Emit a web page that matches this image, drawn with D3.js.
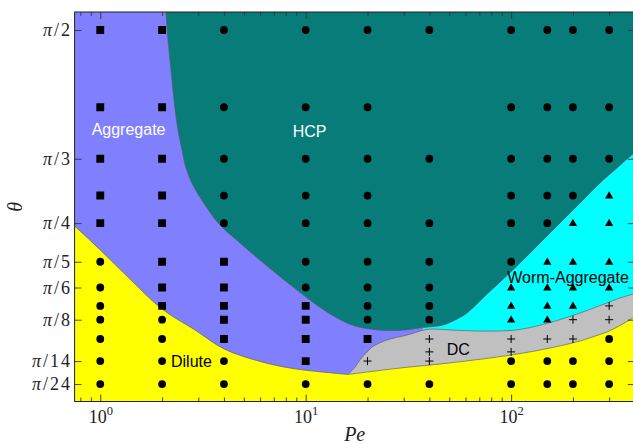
<!DOCTYPE html>
<html>
<head>
<meta charset="utf-8">
<script src="https://cdn.jsdelivr.net/npm/d3@7"></script>
<style>
  body { margin: 0; background: #fff; }
  svg { display: block; }
</style>
</head>
<body>
<svg id="chart" width="633" height="444"></svg>
<script>
// Péclet numbers of the simulated columns
const peValues = [1, 2, 4, 10, 20, 40, 100, 150, 200, 300];
// opening angles θ of the simulated rows, in units of π (top to bottom)
const thetaRows = [1/2, 2/5, 1/3, 2/7, 1/4, 1/5, 1/6, 1/7, 1/8, 1/10, 1/12, 1/14, 1/24];
// observed state for each Pe column, one character per θ row:
// A aggregate, o HCP / dilute, W worm-aggregate, C DC, . not run
const phaseColumns = [
  "AAAAAooooo.oo",
  "AAAAAAAAoo.oo",
  "oooooAAAAA.oo",
  "oooooooAAA.Ao",
  "oooooooooA.Co",
  "o.o.oooooCCCo",
  "ooooooWWWCCoo",
  "oooooWWWWC.oo",
  "ooooWWWWCC.oo",
  "oooWWWWCCo.oo"
];

// axis ticks
const xMajorTicks = [1, 10, 100];
const xTickExponents = ["0", "1", "2"];
const yTickDenominators = [2, 3, 4, 5, 6, 8, 14, 24];
const yTickLabels = ["2", "3", "4", "5", "6", "8", "14", "24"];

// phase boundaries, [Pe, θ (rad)]
// HCP region edge (HCP lies above it)
const hcpBoundary = [
  [2.054, 1.693], [2.088, 1.640], [2.136, 1.530], [2.209, 1.408], [2.285, 1.286],
  [2.389, 1.164], [2.499, 1.083], [2.614, 1.010], [2.827, 0.940], [3.234, 0.859],
  [3.826, 0.778], [4.787, 0.705], [5.99, 0.635], [7.753, 0.558], [10.03, 0.485],
  [13.13, 0.416], [17.38, 0.367], [24.33, 0.349], [30.44, 0.351],
  [37.25, 0.361], [46.60, 0.371], [53.33, 0.391], [61.01, 0.420], [76.32, 0.497],
  [88.31, 0.546], [110.5, 0.623], [138.3, 0.705], [173.0, 0.786], [216.5, 0.867],
  [270.9, 0.949], [327.8, 1.010], [392.3, 1.067], [474.7, 1.115]
];
// Pe where the worm-aggregate region begins under the HCP edge
const wormStartPe = 37.25;
// upper edge of the DC band
const dcBoundary = [
  [16.07, 0.170], [17.38, 0.200], [18.38, 0.229], [19.88, 0.261], [21.27, 0.284],
  [24.88, 0.310], [31.13, 0.330], [38.95, 0.353], [50.41, 0.351], [65.24, 0.347],
  [88.31, 0.347], [110.5, 0.353], [154.6, 0.381], [216.5, 0.420], [270.9, 0.450],
  [339.0, 0.481], [392.3, 0.497], [474.7, 0.522]
];
// upper edge of the dilute region (aggregate side, then DC side)
const diluteBoundaryLeft = [
  [0.673, 0.806], [0.753, 0.772], [1.0, 0.676], [1.395, 0.558], [1.997, 0.436],
  [2.891, 0.351], [4.002, 0.274], [5.99, 0.223], [8.675, 0.194], [12.70, 0.178],
  [16.07, 0.170]
];
const diluteBoundaryRight = [
  [16.07, 0.170], [28.78, 0.196], [50.41, 0.217], [100, 0.249], [160.0, 0.280],
  [216.5, 0.306], [256.2, 0.326], [293.1, 0.343], [339.0, 0.369], [392.3, 0.400],
  [474.7, 0.436]
];

// region names, anchored at [Pe, θ] (text start, baseline)
const regionLabels = [
  { text: "Aggregate", pe: 0.908, theta: 1.144, fill: "#ffffff" },
  { text: "HCP", pe: 8.645, theta: 1.137, fill: "#ffffff" },
  { text: "Worm-Aggregate", pe: 95.8, theta: 0.541, fill: "#000000" },
  { text: "DC", pe: 48.6, theta: 0.249, fill: "#000000" },
  { text: "Dilute", pe: 2.209, theta: 0.2015, fill: "#000000" }
];

const colors = {
  aggregate: "#8080ff",
  hcp: "#077c78",
  worm: "#00ffff",
  dc: "#c0c0c0",
  dilute: "#ffff00",
  edge: "#5a5a5a"
};

const svg = d3.select("#chart");
const box = { left: 74.6, right: 634.8, top: 12, bottom: 401.5 };

const x = d3.scaleLog().domain([0.75, 400]).range([box.left, box.right]);
const y = d3.scaleLinear().domain([0.06, 1.644]).range([box.bottom, box.top]);

svg.append("defs").append("clipPath").attr("id", "plot-clip")
  .append("rect").attr("x", box.left).attr("y", box.top)
  .attr("width", box.right - box.left).attr("height", box.bottom - box.top);

const plot = svg.append("g").attr("clip-path", "url(#plot-clip)");

// aggregate fills the whole plane, other phases are layered on top
plot.append("rect").attr("x", box.left).attr("y", box.top)
  .attr("width", box.right - box.left).attr("height", box.bottom - box.top)
  .attr("fill", colors.aggregate);

const smooth = d3.curveCatmullRom.alpha(0.5);
const areaBelow = d3.area()
  .x(d => x(d[0])).y0(box.bottom + 5).y1(d => y(d[1]))
  .curve(smooth);
const areaAbove = d3.area()
  .x(d => x(d[0])).y0(box.top - 5).y1(d => y(d[1]))
  .curve(smooth);
const edgeLine = d3.line()
  .x(d => x(d[0])).y(d => y(d[1]))
  .curve(smooth);

// worm-aggregate: under the right branch of the HCP edge
plot.append("path")
  .attr("d", areaBelow(hcpBoundary.filter(d => d[0] >= wormStartPe)))
  .attr("fill", colors.worm);
// HCP
plot.append("path").attr("d", areaAbove(hcpBoundary)).attr("fill", colors.hcp);
// DC band
plot.append("path").attr("d", areaBelow(dcBoundary)).attr("fill", colors.dc);
// dilute
plot.append("path").attr("d", areaBelow(diluteBoundaryLeft)).attr("fill", colors.dilute);
plot.append("path").attr("d", areaBelow(diluteBoundaryRight)).attr("fill", colors.dilute);

// thin edges along the boundaries
[hcpBoundary, dcBoundary, diluteBoundaryLeft, diluteBoundaryRight].forEach(b => {
  plot.append("path").attr("d", edgeLine(b))
    .attr("fill", "none").attr("stroke", colors.edge)
    .attr("stroke-width", 0.8).attr("stroke-opacity", 0.8);
});

// simulation markers
const points = [];
peValues.forEach((pe, i) => {
  thetaRows.forEach((t, j) => {
    const s = phaseColumns[i][j];
    if (s !== ".") points.push({ pe, theta: t * Math.PI, state: s });
  });
});

const squarePath = d3.symbol(d3.symbolSquare, 62)();
const trianglePath = d3.symbol(d3.symbolTriangle, 30)();
const plusPath = "M-4,0H4M0,-4V4";

const marks = plot.append("g");
points.forEach(p => {
  const g = marks.append("g")
    .attr("transform", `translate(${x(p.pe)},${y(p.theta)})`);
  if (p.state === "o") {
    g.append("circle").attr("r", 3.9).attr("fill", "#000");
  } else if (p.state === "A") {
    g.append("path").attr("d", squarePath).attr("fill", "#000");
  } else if (p.state === "W") {
    g.append("path").attr("d", trianglePath).attr("fill", "#000")
      .attr("transform", "translate(0,0.5)");
  } else if (p.state === "C") {
    g.append("path").attr("d", plusPath).attr("fill", "none")
      .attr("stroke", "#000").attr("stroke-width", 1);
  }
});

// region names
svg.append("g").selectAll("text").data(regionLabels).join("text")
  .attr("x", d => x(d.pe)).attr("y", d => y(d.theta))
  .attr("fill", d => d.fill)
  .attr("font-family", "'Liberation Sans', Arial, sans-serif")
  .attr("font-size", 16)
  .text(d => d.text);

// axes with inward ticks on all four sides
const minorTicks = x.ticks().filter(v => !xMajorTicks.includes(v));
const tickColor = "#333";
function styleAxis(g) {
  g.select(".domain").remove();
  g.selectAll(".tick line").attr("stroke", tickColor).attr("stroke-width", 0.9);
  g.selectAll(".tick text").remove();
}
svg.append("g").attr("transform", `translate(0,${box.bottom})`)
  .call(d3.axisBottom(x).tickValues(xMajorTicks).tickSize(-7)).call(styleAxis);
svg.append("g").attr("transform", `translate(0,${box.bottom})`)
  .call(d3.axisBottom(x).tickValues(minorTicks).tickSize(-4)).call(styleAxis);
svg.append("g").attr("transform", `translate(0,${box.top})`)
  .call(d3.axisTop(x).tickValues(xMajorTicks).tickSize(-7)).call(styleAxis);
svg.append("g").attr("transform", `translate(0,${box.top})`)
  .call(d3.axisTop(x).tickValues(minorTicks).tickSize(-4)).call(styleAxis);

const yTickValues = yTickDenominators.map(n => Math.PI / n);
svg.append("g").attr("transform", `translate(${box.left},0)`)
  .call(d3.axisLeft(y).tickValues(yTickValues).tickSize(-7)).call(styleAxis);
svg.append("g").attr("transform", `translate(${box.right},0)`)
  .call(d3.axisRight(y).tickValues(yTickValues).tickSize(-7)).call(styleAxis);

// frame
svg.append("rect").attr("x", box.left).attr("y", box.top)
  .attr("width", box.right - box.left).attr("height", box.bottom - box.top)
  .attr("fill", "none").attr("stroke", "#222").attr("stroke-width", 1);

const serif = "'Liberation Serif', 'Times New Roman', serif";

// x tick labels 10^k
const xl = svg.append("g").attr("font-family", serif).attr("fill", "#222");
xMajorTicks.forEach((v, i) => {
  const t = xl.append("text").attr("x", x(v) + 0.5).attr("y", 423)
    .attr("text-anchor", "middle").attr("font-size", 18);
  t.append("tspan").text("10");
  t.append("tspan").attr("dy", -8).attr("font-size", 12.5).text(xTickExponents[i]);
});

// y tick labels π/n
const yl = svg.append("g").attr("font-family", serif).attr("fill", "#222");
yTickDenominators.forEach((n, i) => {
  const t = yl.append("text").attr("x", box.left - 2.5).attr("y", y(Math.PI / n))
    .attr("dy", "0.34em").attr("text-anchor", "end").attr("font-size", 18)
    .attr("letter-spacing", 2);
  t.append("tspan").attr("font-style", "italic").text("π");
  t.append("tspan").text("/" + yTickLabels[i]);
});

// axis titles
svg.append("text").attr("x", (box.left + box.right) / 2).attr("y", 441)
  .attr("text-anchor", "middle").attr("font-family", serif)
  .attr("font-style", "italic").attr("font-size", 20).attr("fill", "#222")
  .text("Pe");
svg.append("text")
  .attr("transform", `translate(22,${(box.top + box.bottom) / 2}) rotate(-90)`)
  .attr("text-anchor", "middle").attr("font-family", serif)
  .attr("font-style", "italic").attr("font-size", 20).attr("fill", "#222")
  .text("θ");
</script>
</body>
</html>
